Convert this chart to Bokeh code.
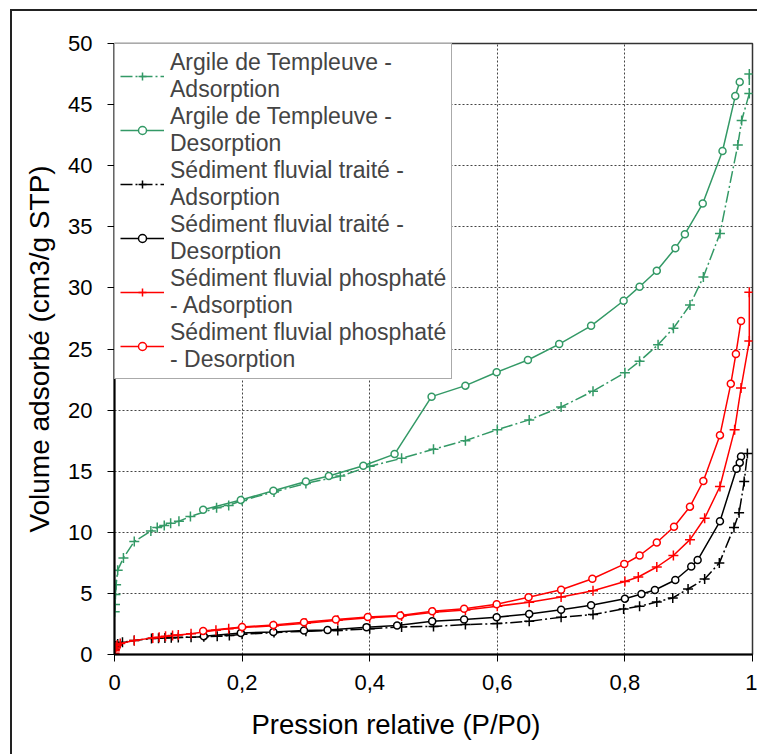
from bokeh.plotting import figure
from bokeh.models import FixedTicker, Legend, LegendItem, Title
from bokeh.embed import file_html
from bokeh.resources import INLINE

FONT = "Liberation Sans"
GREEN = "#339966"
RED = "#FF0000"
BLACK = "#000000"

# Argile de Templeuve
clay_ads_x = [0.0003, 0.0008, 0.0015, 0.0025, 0.005, 0.014, 0.031, 0.057, 0.067, 0.078, 0.088, 0.101, 0.119,
              0.160, 0.179, 0.20, 0.25, 0.30, 0.354, 0.40, 0.45, 0.50, 0.55, 0.60, 0.65, 0.70, 0.75, 0.80,
              0.823, 0.852, 0.876, 0.902, 0.923, 0.949, 0.977, 0.983, 0.995, 0.995]
clay_ads_y = [3.5, 4.1, 4.9, 5.7, 6.9, 7.9, 9.25, 10.1, 10.4, 10.55, 10.75, 10.9, 11.3,
              12.0, 12.2, 12.6, 13.3, 14.0, 14.6, 15.4, 16.05, 16.8, 17.5, 18.4, 19.2, 20.25, 21.55, 23.05,
              24.0, 25.35, 26.7, 28.6, 30.9, 34.45, 41.7, 43.7, 45.9, 47.5]
clay_des_x = [0.980, 0.973, 0.953, 0.922, 0.894, 0.879, 0.85, 0.823, 0.798, 0.747, 0.697, 0.648, 0.599,
              0.55, 0.497, 0.439, 0.39, 0.336, 0.30, 0.249, 0.198, 0.139]
clay_des_y = [46.85, 45.7, 41.2, 36.9, 34.4, 33.25, 31.4, 30.1, 28.95, 26.9, 25.4, 24.1, 23.1,
              22.0, 21.1, 16.4, 15.45, 14.6, 14.15, 13.4, 12.65, 11.85]

# Sédiment fluvial traité
sed_ads_x = [0.0005, 0.002, 0.005, 0.0125, 0.031, 0.058, 0.069, 0.079, 0.089, 0.10, 0.12, 0.14, 0.161, 0.18,
             0.20, 0.25, 0.30, 0.35, 0.40, 0.45, 0.50, 0.55, 0.60, 0.65, 0.70, 0.75, 0.798, 0.823, 0.85,
             0.875, 0.899, 0.925, 0.948, 0.971, 0.979, 0.987, 0.992]
sed_ads_y = [0.4, 0.7, 0.85, 1.0, 1.15, 1.3, 1.33, 1.36, 1.38, 1.4, 1.42, 1.45, 1.5, 1.55,
             1.65, 1.8, 1.9, 1.97, 2.1, 2.26, 2.3, 2.45, 2.53, 2.72, 3.05, 3.27, 3.73, 3.95, 4.3,
             4.63, 5.36, 6.18, 7.48, 10.4, 11.6, 14.15, 16.45]
sed_des_x = [0.982, 0.98, 0.975, 0.949, 0.914, 0.904, 0.879, 0.847, 0.826, 0.80, 0.747, 0.70, 0.65, 0.599,
             0.548, 0.498, 0.443, 0.395, 0.334, 0.297, 0.249, 0.198, 0.14]
sed_des_y = [16.2, 15.7, 15.2, 10.9, 7.73, 7.2, 6.1, 5.28, 4.95, 4.57, 4.03, 3.67, 3.32, 3.05,
             2.86, 2.72, 2.37, 2.24, 2.0, 1.97, 1.85, 1.75, 1.5]

# Sédiment fluvial phosphaté
pho_ads_x = [0.0002, 0.0005, 0.001, 0.002, 0.004, 0.009, 0.031, 0.06, 0.07, 0.08, 0.091, 0.10, 0.12, 0.159,
             0.179, 0.20, 0.25, 0.30, 0.35, 0.40, 0.45, 0.50, 0.55, 0.60, 0.65, 0.70, 0.75, 0.80, 0.821,
             0.85, 0.876, 0.902, 0.925, 0.949, 0.972, 0.982, 0.995, 0.995]
pho_ads_y = [0.1, 0.3, 0.45, 0.6, 0.75, 0.9, 1.15, 1.36, 1.42, 1.5, 1.55, 1.6, 1.7, 1.98,
             2.1, 2.2, 2.35, 2.55, 2.8, 3.0, 3.15, 3.45, 3.65, 3.95, 4.28, 4.7, 5.22, 5.98, 6.34,
             7.16, 8.1, 9.4, 11.15, 13.75, 18.4, 21.8, 25.65, 29.65]
pho_des_x = [0.982, 0.974, 0.966, 0.949, 0.923, 0.902, 0.877, 0.85, 0.823, 0.799, 0.749, 0.70, 0.649,
             0.599, 0.548, 0.498, 0.448, 0.397, 0.347, 0.297, 0.249, 0.2, 0.139]
pho_des_y = [27.3, 24.6, 22.15, 17.95, 14.2, 12.1, 10.45, 9.17, 8.1, 7.4, 6.2, 5.3, 4.68,
             4.12, 3.74, 3.54, 3.2, 3.07, 2.86, 2.64, 2.42, 2.26, 1.93]

legend_labels = [
    "Argile de Templeuve -\nAdsorption",
    "Argile de Templeuve -\nDesorption",
    "Sédiment fluvial traité -\nAdsorption",
    "Sédiment fluvial traité -\nDesorption",
    "Sédiment fluvial phosphaté\n- Adsorption",
    "Sédiment fluvial phosphaté\n- Desorption",
]

x_tick_values = [0, 0.2, 0.4, 0.6, 0.8, 1]
x_tick_labels = ["0", "0,2", "0,4", "0,6", "0,8", "1"]
y_tick_values = [0, 5, 10, 15, 20, 25, 30, 35, 40, 45, 50]

x_title = "Pression relative (P/P0)"
y_title = "Volume adsorbé (cm3/g STP)"

p = figure(width=757, height=754, x_range=(0, 1), y_range=(0, 50),
           output_backend="svg", toolbar_location=None,
           min_border_left=114, min_border_right=5, min_border_top=43, min_border_bottom=99)
p.styles = {"box-shadow": "inset 10px 9px 0 0 white, inset 12px 11px 0 0 #222"}
p.border_fill_alpha = 0
p.background_fill_color = "white"
p.outline_line_color = "#333333"
p.outline_line_width = 1.5

series = [
    (clay_ads_x, clay_ads_y, GREEN, "12 3 2 3", "cross"),
    (clay_des_x, clay_des_y, GREEN, "solid", "circle"),
    (sed_ads_x, sed_ads_y, BLACK, "12 3 2 3", "cross"),
    (sed_des_x, sed_des_y, BLACK, "solid", "circle"),
    (pho_ads_x, pho_ads_y, RED, "solid", "cross"),
    (pho_des_x, pho_des_y, RED, "solid", "circle"),
]

items = []
for (xs, ys, col, dash, mk), lab in zip(series, legend_labels):
    ln = p.line(xs, ys, line_color=col, line_width=1.5, line_dash=dash)
    if mk == "cross":
        sc = p.scatter(xs, ys, marker="cross", size=10, line_color=col, line_width=1.5)
    else:
        sc = p.scatter(xs, ys, marker="circle", size=7, line_color=col, line_width=1.5, fill_color="white")
    items.append(LegendItem(label=lab, renderers=[ln, sc]))

legend = Legend(items=items, location="top_left", margin=0, padding=5, spacing=0,
                glyph_width=44, glyph_height=20, label_standoff=6,
                label_text_font=FONT, label_text_font_size="23px", label_text_line_height=1.2,
                border_line_color="#555555", border_line_width=1.5,
                background_fill_color="white", background_fill_alpha=1.0)
p.add_layout(legend)

for ax in (p.xaxis, p.yaxis):
    ax.axis_line_color = "black"
    ax.axis_line_width = 2
    ax.major_tick_line_color = "black"
    ax.major_tick_line_width = 1
    ax.major_tick_in = 0
    ax.major_tick_out = 7
    ax.minor_tick_line_color = None
    ax.major_label_text_font = FONT
    ax.major_label_text_font_size = "22px"
    ax.major_label_text_color = "black"

p.xaxis.ticker = FixedTicker(ticks=x_tick_values)
p.xaxis.major_label_overrides = dict(zip(x_tick_values, x_tick_labels))
p.xaxis.major_label_standoff = 13
p.yaxis.ticker = FixedTicker(ticks=y_tick_values)
p.yaxis.major_label_standoff = 15

p.yaxis.axis_label = y_title
p.yaxis.axis_label_text_font = FONT
p.yaxis.axis_label_text_font_size = "28px"
p.yaxis.axis_label_text_font_style = "normal"
p.yaxis.axis_label_text_color = "black"
p.yaxis.axis_label_standoff = 10

p.add_layout(Title(text=x_title, align="left", offset=137, text_font=FONT, text_font_size="27.5px",
                   text_font_style="normal", text_color="black", standoff=29), "below")

for g in (p.xgrid, p.ygrid):
    g.grid_line_color = "#444444"
    g.grid_line_dash = "2 2"
    g.grid_line_width = 1

open("out.html", "w").write(file_html(p, INLINE))
